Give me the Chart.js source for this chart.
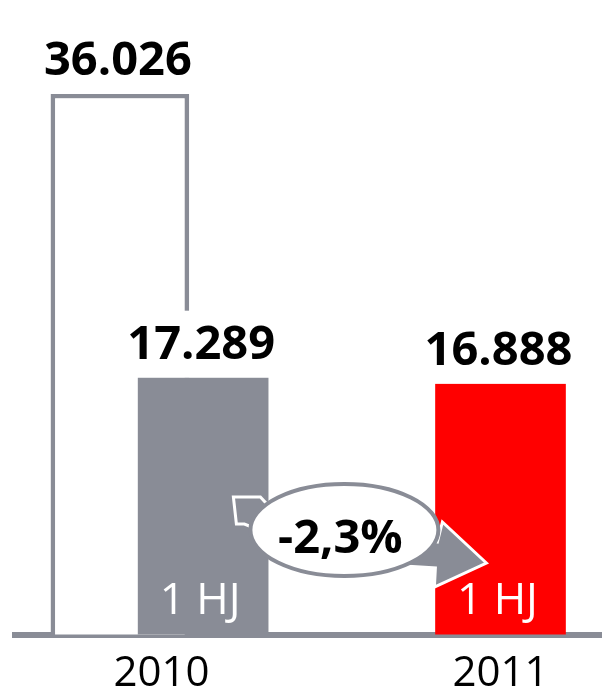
<!DOCTYPE html>
<html><head><meta charset="utf-8">
<script src="https://cdn.jsdelivr.net/npm/chart.js@4/dist/chart.umd.min.js"></script>
<style>html,body{margin:0;padding:0;background:#fff;overflow:hidden}</style>
</head><body>
<canvas id="c" width="602" height="694"></canvas>
<script>
// ---- data ----
const categories = ['2010', '2011'];
const fullYearValues = [36026, null];      // Gesamtjahr (outline bar)
const halfYearValues = [17289, 16888];     // 1. Halbjahr
const halfYearLabel = '1 HJ';
const fullYearLabel = 'Gesamtjahr';

// ---- styles / layout ----
const GRAY = '#898c96';
const RED = '#ff0000';
const FONT = '"Open Sans", "Liberation Sans", sans-serif';
const groupShift = 0.1228;

function fmt(v) { return String(v).replace(/\B(?=(\d{3})+(?!\d))/g, '.'); }
function pct(a, b) { return ((b - a) / a * 100).toFixed(1).replace('.', ',') + '%'; }

const halfData = halfYearValues.map((v, i) => ({ x: i + (fullYearValues[i] != null ? groupShift : 0), y: v }));
const fullData = fullYearValues.map((v, i) => v == null ? null : ({ x: i - groupShift, y: v })).filter(d => d);

const overlayPlugin = {
  id: 'overlay',
  afterDatasetsDraw(chart) {
    const ctx = chart.ctx;
    const halfMeta = chart.getDatasetMeta(0);
    const fullMeta = chart.getDatasetMeta(1);
    const base = chart.chartArea.bottom;
    ctx.save();
    const drawValue = (el, v) => {
      ctx.font = 'bold 47px ' + FONT;
      const t = fmt(v);
      const w = ctx.measureText(t).width;
      const yb = el.y - 19;
      ctx.fillStyle = '#fff';
      ctx.fillRect(el.x - w / 2 - 4, yb - 48, w + 8, el.y - (yb - 48));
      ctx.fillStyle = '#000';
      ctx.textAlign = 'center';
      ctx.textBaseline = 'alphabetic';
      ctx.fillText(t, el.x - 2, yb);
    };
    fullMeta.data.forEach((el, i) => drawValue(el, fullData[i].y));
    halfMeta.data.forEach((el, i) => drawValue(el, halfYearValues[i]));

    // "1 HJ" labels inside bars
    ctx.font = '44px ' + FONT;
    ctx.fillStyle = '#fff';
    ctx.textAlign = 'center';
    ctx.textBaseline = 'alphabetic';
    halfMeta.data.forEach(el => ctx.fillText(halfYearLabel, el.x - 3, base - 21));

    // arrow + ellipse with change
    const g = halfMeta.data[0], r = halfMeta.data[1];
    const cx = g.x + (r.x - g.x) * 0.475;
    const cy = base - 104.5;
    const P = [[-111,-33],[-84,-33],[-70,-18],[93,12],[98,-8],[142,33],[90,57],[91,38],[60,36],[-60,10],[-100,-6],[-108,-6]];
    ctx.beginPath();
    P.forEach((p, i) => i ? ctx.lineTo(cx + p[0], cy + p[1]) : ctx.moveTo(cx + p[0], cy + p[1]));
    ctx.closePath();
    ctx.fillStyle = GRAY;
    ctx.fill();
    ctx.strokeStyle = '#fff';
    ctx.lineWidth = 3;
    ctx.lineJoin = 'miter';
    ctx.stroke();

    ctx.beginPath();
    ctx.ellipse(cx, cy, 94, 46, 0, 0, Math.PI * 2);
    ctx.fillStyle = '#fff';
    ctx.fill();
    ctx.strokeStyle = GRAY;
    ctx.lineWidth = 4;
    ctx.stroke();

    ctx.font = 'bold 47px ' + FONT;
    ctx.fillStyle = '#000';
    ctx.textAlign = 'center';
    ctx.fillText(pct(halfYearValues[0], halfYearValues[1]), cx - 4, cy + 23);
    ctx.restore();
  }
};

new Chart(document.getElementById('c'), {
  type: 'bar',
  data: {
    datasets: [
      { label: halfYearLabel, data: halfData, backgroundColor: halfYearValues.map((v, i) => i === 0 ? GRAY : RED),
        borderWidth: 0, barThickness: 130, grouped: false },
      { label: fullYearLabel, data: fullData, backgroundColor: '#fff', borderColor: GRAY,
        borderWidth: 4.5, barThickness: 138, grouped: false }
    ]
  },
  options: {
    responsive: false,
    animation: false,
    devicePixelRatio: 1,
    layout: { padding: { left: 15, right: 0, top: 0, bottom: 0 } },
    plugins: { legend: { display: false }, tooltip: { enabled: false } },
    scales: {
      x: {
        type: 'linear', min: -0.4322, max: 1.2994, offset: false,
        grid: { display: false, drawTicks: false },
        border: { display: true, color: GRAY, width: 6 },
        ticks: { font: { family: FONT, size: 42 }, color: '#000', padding: 14, autoSkip: false, maxRotation: 0,
                 callback: (v) => categories[v] ?? '' },
        afterBuildTicks: (s) => { s.ticks = categories.map((c, i) => ({ value: i })); },
        afterFit: (s) => { s.height = 59.5; }
      },
      y: { type: 'linear', display: false, min: 328, max: 42234 }
    }
  },
  plugins: [overlayPlugin]
});
</script>
</body></html>
